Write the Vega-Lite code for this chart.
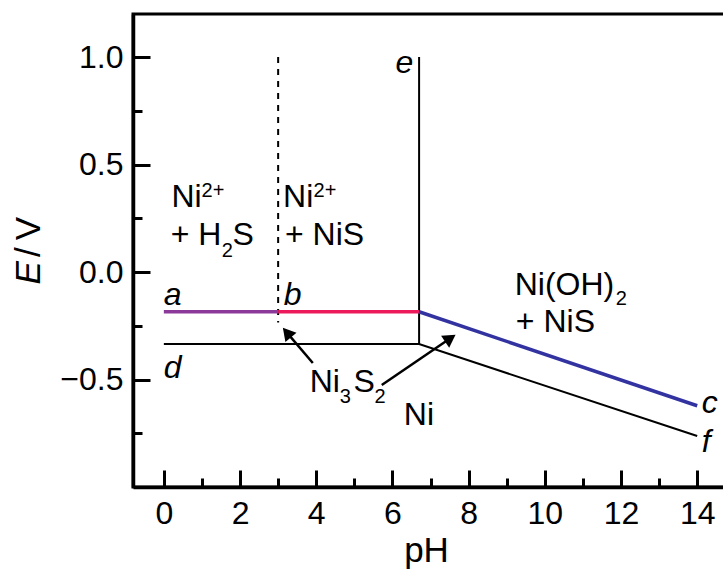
{
  "$schema": "https://vega.github.io/schema/vega-lite/v6.json",
  "autosize": "none",
  "padding": {"left": 133, "top": 14, "right": 0, "bottom": 83},
  "width": 600,
  "height": 473,
  "background": "white",
  "config": {
    "font": "Liberation Sans",
    "view": {"stroke": "black", "strokeWidth": 3},
    "axis": {"domainColor": "black", "domainWidth": 3.5, "tickColor": "black", "tickWidth": 3, "labelColor": "black", "labelFont": "Liberation Sans", "labelFontSize": 32, "grid": false, "titleFont": "Liberation Sans", "titleFontWeight": "normal", "titleColor": "black", "titleFontSize": 35}
  },
  "datasets": {
    "black": [
      {"s": "df", "i": 0, "x": 0, "E": -0.335},
      {"s": "df", "i": 1, "x": 6.7, "E": -0.335},
      {"s": "df", "i": 2, "x": 14, "E": -0.763},
      {"s": "e", "i": 0, "x": 6.7, "E": 1.0},
      {"s": "e", "i": 1, "x": 6.7, "E": -0.335}
    ],
    "dash": [
      {"i": 0, "x": 3, "E": 1.0},
      {"i": 1, "x": 3, "E": -0.235}
    ],
    "colored": [
      {"s": "ab", "i": 0, "x": 0, "E": -0.185},
      {"s": "ab", "i": 1, "x": 3, "E": -0.185},
      {"s": "be", "i": 0, "x": 3, "E": -0.185},
      {"s": "be", "i": 1, "x": 6.7, "E": -0.185},
      {"s": "c", "i": 0, "x": 6.7, "E": -0.185},
      {"s": "c", "i": 1, "x": 14, "E": -0.622}
    ],
    "arrows": [
      {"s": 1, "i": 0, "x": 3.91, "E": -0.423},
      {"s": 1, "i": 1, "x": 3.23, "E": -0.282},
      {"s": 2, "i": 0, "x": 5.72, "E": -0.526},
      {"s": 2, "i": 1, "x": 7.52, "E": -0.308}
    ],
    "labels": [
      {"t": "Ni", "x": 0.2, "E": 0.302},
      {"t": "+ H", "x": 0.18, "E": 0.126},
      {"t": "S", "x": 1.8, "E": 0.126},
      {"t": "Ni", "x": 3.13, "E": 0.302},
      {"t": "+ NiS", "x": 3.18, "E": 0.126},
      {"t": "Ni(OH)", "x": 9.21, "E": -0.107},
      {"t": "+ NiS", "x": 9.24, "E": -0.278},
      {"t": "Ni", "x": 3.83, "E": -0.557},
      {"t": "S", "x": 4.98, "E": -0.557},
      {"t": "Ni", "x": 6.3, "E": -0.712}
    ],
    "scripts": [
      {"t": "2+", "x": 0.99, "E": 0.349},
      {"t": "2", "x": 1.52, "E": 0.071},
      {"t": "2+", "x": 3.93, "E": 0.349},
      {"t": "2", "x": 11.86, "E": -0.153},
      {"t": "3", "x": 4.62, "E": -0.611},
      {"t": "2", "x": 5.53, "E": -0.611}
    ],
    "letters": [
      {"t": "a", "x": 0, "E": -0.153},
      {"t": "b", "x": 3.15, "E": -0.153},
      {"t": "d", "x": 0, "E": -0.494},
      {"t": "c", "x": 14.12, "E": -0.656},
      {"t": "f", "x": 14.12, "E": -0.836}
    ],
    "eletter": [
      {"t": "e", "x": 6.55, "E": 0.924}
    ]
  },
  "encoding": {
    "x": {"field": "x", "type": "quantitative", "scale": {"domain": [-0.81, 14.94], "nice": false, "zero": false}, "axis": {"values": [0,1,2,3,4,5,6,7,8,9,10,11,12,13,14], "format": "d", "labelExpr": "datum.value % 2 === 0 ? datum.label : ''", "tickSize": {"condition": {"test": "datum.value % 2 === 0", "value": -17}, "value": -9}, "labelPadding": 28, "title": "pH", "titleX": 293, "titleY": 74, "titleBaseline": "alphabetic", "titleAnchor": "start", "titleAlign": "center"}},
    "y": {"field": "E", "type": "quantitative", "scale": {"domain": [-1.0, 1.2], "nice": false, "zero": false}, "axis": {"values": [-0.75,-0.5,-0.25,0,0.25,0.5,0.75,1.0], "format": ".1f", "labelExpr": "abs(datum.value*2 - round(datum.value*2)) < 0.001 ? datum.label : ''", "tickSize": {"condition": {"test": "abs(datum.value*2 - round(datum.value*2)) < 0.001", "value": -17}, "value": -9}, "labelPadding": 27, "title": null}}
  },
  "layer": [
    {"data": {"name": "black"}, "mark": {"type": "line", "color": "black", "strokeWidth": 2}, "encoding": {"detail": {"field": "s"}, "order": {"field": "i"}}},
    {"data": {"name": "dash"}, "mark": {"type": "line", "color": "black", "strokeWidth": 2, "strokeDash": [6, 6]}, "encoding": {"order": {"field": "i"}}},
    {"data": {"name": "colored"}, "mark": {"type": "line", "strokeWidth": 3.5}, "encoding": {"color": {"field": "s", "type": "nominal", "scale": {"domain": ["ab", "be", "c"], "range": ["#8B3A9A", "#EC1A5B", "#3233A0"]}, "legend": null}, "order": {"field": "i"}}},
    {"data": {"name": "arrows"}, "mark": {"type": "line", "color": "black", "strokeWidth": 2.5}, "encoding": {"detail": {"field": "s"}, "order": {"field": "i"}}},
    {"data": {"name": "arrows"}, "transform": [{"filter": "datum.s === 1 && datum.i === 1"}], "mark": {"type": "point", "shape": "triangle-up", "filled": true, "color": "black", "size": 210, "opacity": 1, "angle": 320}},
    {"data": {"name": "arrows"}, "transform": [{"filter": "datum.s === 2 && datum.i === 1"}], "mark": {"type": "point", "shape": "triangle-up", "filled": true, "color": "black", "size": 210, "opacity": 1, "angle": 56}},
    {"data": {"name": "labels"}, "mark": {"type": "text", "align": "left", "baseline": "alphabetic", "fontSize": 32, "color": "black"}, "encoding": {"text": {"field": "t"}}},
    {"data": {"name": "scripts"}, "mark": {"type": "text", "align": "left", "baseline": "alphabetic", "fontSize": 20, "color": "black"}, "encoding": {"text": {"field": "t"}}},
    {"data": {"name": "letters"}, "mark": {"type": "text", "align": "left", "baseline": "alphabetic", "fontSize": 32, "fontStyle": "italic", "color": "black"}, "encoding": {"text": {"field": "t"}}},
    {"data": {"name": "eletter"}, "mark": {"type": "text", "align": "right", "baseline": "alphabetic", "fontSize": 32, "fontStyle": "italic", "color": "black"}, "encoding": {"text": {"field": "t"}}},
    {"data": {"values": [{"t": "E", "x": -3.25, "E": 0.05}]}, "mark": {"type": "text", "align": "right", "baseline": "alphabetic", "angle": 270, "fontSize": 35, "fontStyle": "italic", "color": "black"}, "encoding": {"text": {"field": "t"}}},
    {"data": {"values": [{"t": "\u2009/\u2009V", "x": -3.25, "E": 0.07}]}, "mark": {"type": "text", "align": "left", "baseline": "alphabetic", "angle": 270, "fontSize": 35, "color": "black"}, "encoding": {"text": {"field": "t"}}}
  ]
}
